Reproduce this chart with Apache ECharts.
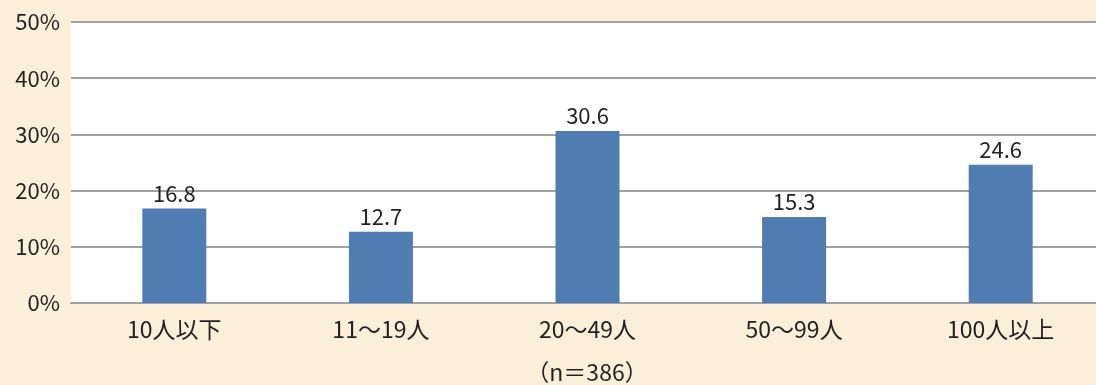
<!DOCTYPE html>
<html><head><meta charset="utf-8">
<script src="https://cdn.jsdelivr.net/npm/echarts@6/dist/echarts.min.js"></script>
<style>html,body{margin:0;padding:0;background:#fcefd9;}#c{width:1096px;height:385px;}</style>
</head><body><div id="c"></div>
<script>
const categories = ['10人以下', '11～19人', '20～49人', '50～99人', '100人以上'];
const values = [16.8, 12.7, 30.6, 15.3, 24.6];
const yTicks = [0, 10, 20, 30, 40, 50];
const note = '（n＝386）';

const FONT = '"Noto Sans CJK JP", "Noto Sans", sans-serif';
const chart = echarts.init(document.getElementById('c'), null, {renderer: 'canvas'});
chart.setOption({
  backgroundColor: '#fcefd9',
  animation: false,
  textStyle: {fontFamily: FONT, color: '#231f20'},
  grid: {left: 71, width: 1033, top: 22, bottom: 82, show: true, backgroundColor: '#ffffff', borderWidth: 0, outerBoundsMode: 'none', containLabel: false},
  xAxis: {
    type: 'category', data: categories,
    axisLine: {show: true, lineStyle: {color: '#a0a0a2', width: 2}},
    axisTick: {show: false},
    axisLabel: {fontSize: 23, color: '#231f20', fontFamily: FONT, margin: 15}
  },
  yAxis: {
    type: 'value', min: yTicks[0], max: yTicks[yTicks.length - 1], interval: 10,
    axisLine: {show: false}, axisTick: {show: false},
    splitLine: {lineStyle: {color: '#a0a0a2', width: 2}},
    axisLabel: {fontSize: 22, color: '#231f20', fontFamily: FONT, margin: 11, formatter: '{value}%'}
  },
  graphic: [{
    type: 'text', x: 587, y: 361,
    style: {text: note, font: '23px ' + FONT, fill: '#231f20', textAlign: 'center'}
  }],
  series: [{
    type: 'bar', data: values, barWidth: 64,
    itemStyle: {color: '#4f7db1'},
    label: {show: true, position: 'top', distance: 4, fontSize: 22, color: '#231f20', fontFamily: FONT, formatter: p => p.value.toFixed(1)}
  }]
});
</script></body></html>
